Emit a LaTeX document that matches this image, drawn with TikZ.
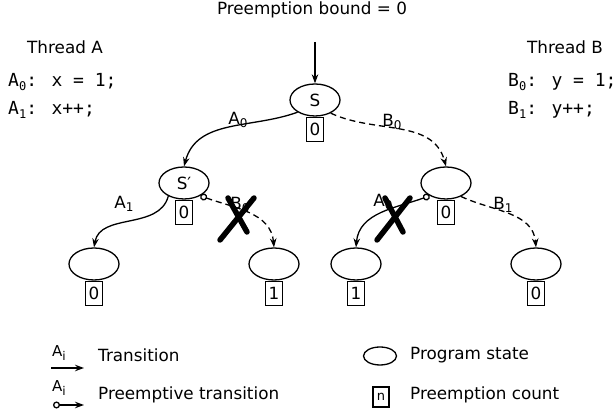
\documentclass[tikz,border=0pt]{standalone}
\usepackage{fontspec}
\setmainfont{DejaVu Sans}
\newfontfamily\codefont{DejaVu Sans Mono}
\usetikzlibrary{shapes.geometric,arrows.meta}
\newcommand\sbs[1]{\raisebox{-0.4ex}{\fontsize{12}{12}\selectfont #1}}
\begin{document}
\begin{tikzpicture}[x=1pt,y=1pt,
  font=\fontsize{16.8}{20}\selectfont,
  state/.style={ellipse, draw, line width=1.3pt, minimum width=50pt, minimum height=32pt, inner sep=0pt},
  cnt/.style={rectangle, draw, line width=1.3pt, minimum width=17pt, minimum height=24pt, inner sep=0pt, anchor=north},
  trans/.style={line width=1.3pt, -{Stealth[length=9pt,width=6.5pt]}},
  ptrans/.style={line width=1.3pt, {Circle[open,length=7pt,width=7pt]}-{Stealth[length=9pt,width=6.5pt]}},
  bdash/.style={dash pattern=on 6pt off 4pt},
  cross/.style={line width=5.5pt, line cap=round},
  lbl/.style={inner sep=0pt},
  code/.style={inner sep=0pt, anchor=west, font=\codefont\fontsize{18}{20}\selectfont}
]
\useasboundingbox (0,0) rectangle (616,414);

% titles and code
\node[lbl] (title) at (312,404) {Preemption bound = 0};
\node[lbl] (tA) at (65,367) {Thread A};
\node[lbl] (tB) at (565,367) {Thread B};
\node[code] (a0) at (8,332) {A\sbs{0}: x = 1;};
\node[code] (a1) at (8,304) {A\sbs{1}: x++;};
\node[code] (b0) at (508,332) {B\sbs{0}: y = 1;};
\node[code] (b1) at (508,304) {B\sbs{1}: y++;};

% states
\node[state] (S) at (315,314) {S};
\node[state] (Sp) at (184,231) {S′};
\node[state] (R) at (446,231) {};
\node[state] (LL) at (94,150) {};
\node[state] (LR) at (274,150) {};
\node[state] (RL) at (356,150) {};
\node[state] (RR) at (536,150) {};

% preemption counts
\node[cnt] (cS) at (S.south) {0};
\node[cnt] (cSp) at (Sp.south) {0};
\node[cnt] (cR) at (R.south) {0};
\node[cnt] (cLL) at (LL.south) {0};
\node[cnt] (cLR) at (LR.south) {1};
\node[cnt] (cRL) at (RL.south) {1};
\node[cnt] (cRR) at (RR.south) {0};

% entry arrow
\coordinate (entry) at (315,372);
\draw[trans] (entry) -- (S.north);

% transitions
\draw[trans] (S.215) to[out=200,in=75] (Sp.north);
\draw[trans,bdash] (S.-40) to[out=-25,in=105] (R.north);
\draw[trans] (Sp.220) to[out=-105,in=80] (LL.north);
\draw[ptrans,bdash] (Sp.-38) to[out=-20,in=95] (LR.north);
\draw[ptrans] (R.218) to[out=200,in=85] (RL.north);
\draw[trans,bdash] (R.-42) to[out=-25,in=95] (RR.north);

% edge labels
\node[lbl] (lA0) at (238,294) {A\sbs{0}};
\node[lbl] (lB0) at (392,292) {B\sbs{0}};
\node[lbl] (lA1) at (124,210) {A\sbs{1}};
\node[lbl] (lB0b) at (240,209) {B\sbs{0}};
\node[lbl] (lA0b) at (383,212) {A\sbs{0}};
\node[lbl] (lB1) at (503,209) {B\sbs{1}};

% crosses
\draw[cross] (220,174) -- (254,216);
\draw[cross] (228,216) -- (247,182);
\draw[cross] (377,174) -- (410,216);
\draw[cross] (385,216) -- (403,182);

% legend
\node[lbl, font=\fontsize{15}{16}\selectfont] (lgA) at (59,61) {A\sbs{i}};
\coordinate (lg1a) at (51,46);
\coordinate (lg1b) at (84,46);
\draw[trans] (lg1a) -- (lg1b);
\node[lbl, anchor=west] (lgT) at (98,59) {Transition};
\node[lbl, font=\fontsize{15}{16}\selectfont] (lgB) at (59,26) {A\sbs{i}};
\coordinate (lg2a) at (53,9);
\coordinate (lg2b) at (84,9);
\draw[ptrans] (lg2a) -- (lg2b);
\node[lbl, anchor=west] (lgP) at (98,19) {Preemptive transition};
\node[ellipse, draw, line width=1.3pt, minimum width=33pt, minimum height=18pt, inner sep=0pt] (lgE) at (380,58) {};
\node[lbl, anchor=west] (lgS) at (410,59) {Program state};
\node[rectangle, draw, line width=1.3pt, minimum width=16pt, minimum height=20pt, inner sep=0pt, font=\fontsize{13}{14}\selectfont] (lgC) at (381,17) {n};
\node[lbl, anchor=west] (lgPC) at (410,19) {Preemption count};
\end{tikzpicture}
\end{document}
